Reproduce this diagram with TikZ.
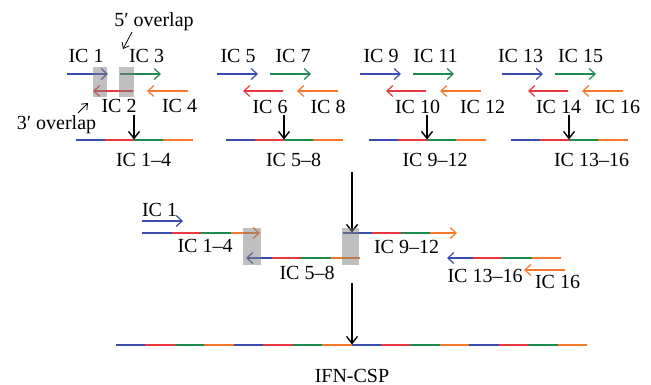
\documentclass[tikz,border=0pt]{standalone}
\usepackage{fontspec}
\setmainfont{Liberation Serif}
\usetikzlibrary{arrows.meta}
\definecolor{cblue}{RGB}{58,76,172}
\definecolor{cred}{RGB}{232,56,62}
\definecolor{cgreen}{RGB}{30,138,78}
\definecolor{corange}{RGB}{244,121,42}
\begin{document}
\begin{tikzpicture}[x=1pt,y=-1pt,
  lbl/.style={font=\fontsize{20}{24}\selectfont, inner sep=0pt, anchor=base},
  harrow/.style={line width=1.2pt,-{Straight Barb[length=6pt,width=11pt]}},
  darrow/.style={line width=1.4pt,black,-{Straight Barb[length=7pt,width=11pt]}},
  thinarrow/.style={line width=0.8pt,black,-{Straight Barb[length=5pt,width=8pt]}},
  seg/.style={line width=1.4pt},
  greybox/.style={fill=black!50, fill opacity=0.5, draw=none}]
\useasboundingbox (0,0) rectangle (651,385);

% ---------- top row: four blocks ----------
\foreach \n/\ox in {1/0,2/150,3/293,4/435}{
  \coordinate (a\n s) at (\ox+67,74);  \coordinate (a\n e) at (\ox+108,74);
  \coordinate (c\n s) at (\ox+120,74); \coordinate (c\n e) at (\ox+161,74);
  \coordinate (b\n s) at (\ox+133,91); \coordinate (b\n e) at (\ox+93,91);
  \coordinate (d\n s) at (\ox+188,91); \coordinate (d\n e) at (\ox+147,91);
  \draw[harrow,cblue] (a\n s) -- (a\n e);
  \draw[harrow,cgreen] (c\n s) -- (c\n e);
  \draw[harrow,cred] (b\n s) -- (b\n e);
  \draw[harrow,corange] (d\n s) -- (d\n e);
  \foreach \i/\c in {0/cblue,1/cred,2/cgreen,3/corange}{
    \draw[seg,\c] (\ox+75.5+29.25*\i,140) -- (\ox+75.5+29.25*\i+29.25,140);
  }
  \coordinate (v\n s) at (\ox+134,115);
  \coordinate (v\n e) at (\ox+134,139.5);
  \draw[darrow] (v\n s) -- (v\n e);
}

% overlap boxes, block 1
\fill[greybox] (93,67) rectangle (107,97);
\fill[greybox] (119,67) rectangle (134,97);

% labels top row
\node[lbl] (t1)  at (86,63)    {IC 1};
\node[lbl] (t3)  at (146.5,63) {IC 3};
\node[lbl] (t2)  at (119,113)  {IC 2};
\node[lbl] (t4)  at (179.5,113){IC 4};
\node[lbl] (g1)  at (143.5,167){IC 1–4};
\node[lbl] (t5)  at (238,63)   {IC 5};
\node[lbl] (t7)  at (293,63)   {IC 7};
\node[lbl] (t6)  at (270,114)  {IC 6};
\node[lbl] (t8)  at (328,114)  {IC 8};
\node[lbl] (g2)  at (293.5,167){IC 5–8};
\node[lbl] (t9)  at (381,63)   {IC 9};
\node[lbl] (t11) at (435.5,63) {IC 11};
\node[lbl] (t10) at (417.5,114){IC 10};
\node[lbl] (t12) at (482.5,114){IC 12};
\node[lbl] (g3)  at (435,167)  {IC 9–12};
\node[lbl] (t13) at (520.5,63) {IC 13};
\node[lbl] (t15) at (580.5,63) {IC 15};
\node[lbl] (t14) at (558.5,114){IC 14};
\node[lbl] (t16) at (617.5,114){IC 16};
\node[lbl] (g4)  at (591.5,167){IC 13–16};

% overlap annotations
\node[lbl] (ov5) at (154,27)  {5′ overlap};
\node[lbl] (ov3) at (56.5,130){3′ overlap};
\coordinate (ov5s) at (132,32);  \coordinate (ov5e) at (123,49);
\coordinate (ov3s) at (78,113);  \coordinate (ov3e) at (88,103);
\draw[thinarrow] (ov5s) -- (ov5e);
\draw[thinarrow] (ov3s) -- (ov3e);

% ---------- middle stage ----------
\coordinate (m1s) at (352,172); \coordinate (m1e) at (352,232.5);
\draw[darrow] (m1s) -- (m1e);

\coordinate (p1s) at (142,221); \coordinate (p1e) at (183,221);
\draw[harrow,cblue] (p1s) -- (p1e);
\node[lbl] (s1) at (159.5,217) {IC 1};

% IC 1-4 (rightward)
\draw[seg,cblue]  (142,233) -- (171.5,233);
\draw[seg,cred]   (171.5,233) -- (201,233);
\draw[seg,cgreen] (201,233) -- (230.5,233);
\coordinate (q1s) at (230.5,233); \coordinate (q1e) at (260,233);
\draw[harrow,corange] (q1s) -- (q1e);
\node[lbl] (s2) at (205,252) {IC 1–4};

% IC 5-8 (leftward)
\draw[seg,corange] (360,258) -- (330.5,258);
\draw[seg,cgreen]  (330.5,258) -- (301,258);
\draw[seg,cred]    (301,258) -- (272,258);
\coordinate (q2s) at (272,258); \coordinate (q2e) at (246,258);
\draw[harrow,cblue] (q2s) -- (q2e);
\node[lbl] (s3) at (307,279) {IC 5–8};

% IC 9-12 (rightward)
\draw[seg,cblue]  (343,233) -- (372,233);
\draw[seg,cred]   (372,233) -- (401,233);
\draw[seg,cgreen] (401,233) -- (430,233);
\coordinate (q3s) at (430,233); \coordinate (q3e) at (457,233);
\draw[harrow,corange] (q3s) -- (q3e);
\node[lbl] (s4) at (406.5,253) {IC 9–12};

% IC 13-16 (leftward)
\draw[seg,corange] (561,258) -- (531.5,258);
\draw[seg,cgreen]  (531.5,258) -- (502,258);
\draw[seg,cred]    (502,258) -- (473,258);
\coordinate (q4s) at (473,258); \coordinate (q4e) at (447,258);
\draw[harrow,cblue] (q4s) -- (q4e);
\node[lbl] (s5) at (485,282) {IC 13–16};

\coordinate (p2s) at (565,270); \coordinate (p2e) at (524,270);
\draw[harrow,corange] (p2s) -- (p2e);
\node[lbl] (s6) at (557.5,288) {IC 16};

% overlap boxes, middle
\fill[greybox] (243,228) rectangle (261,265);
\fill[greybox] (342,228) rectangle (359,265);

% ---------- final ----------
\coordinate (m2s) at (352,283); \coordinate (m2e) at (352,344.5);
\draw[darrow] (m2s) -- (m2e);
\foreach \i/\c in {0/cblue,1/cred,2/cgreen,3/corange,4/cblue,5/cred,6/cgreen,7/corange,
                   8/cblue,9/cred,10/cgreen,11/corange,12/cblue,13/cred,14/cgreen,15/corange}{
  \draw[seg,\c] (116+29.4375*\i,345) -- (116+29.4375*\i+29.4375,345);
}
\node[lbl] (fin) at (352,382) {IFN-CSP};
\end{tikzpicture}
\end{document}
